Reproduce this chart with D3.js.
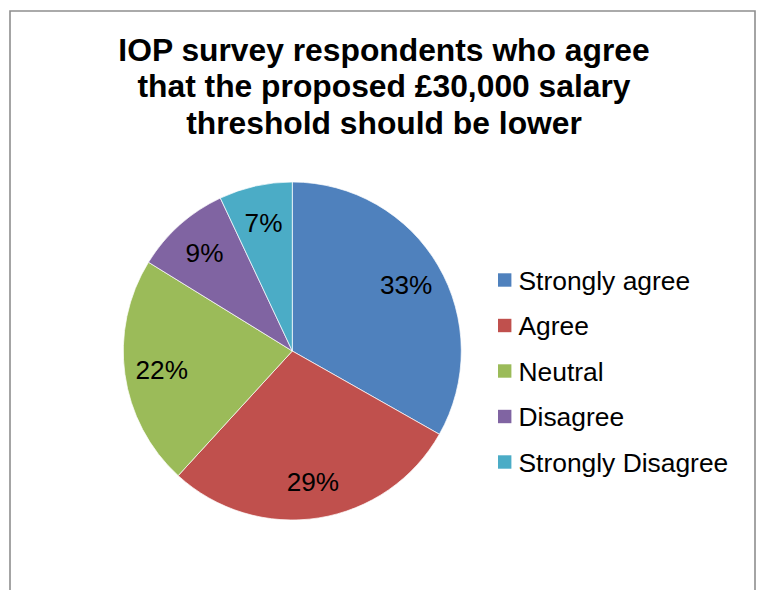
<!DOCTYPE html>
<html>
<head>
<meta charset="utf-8">
<script src="https://cdn.jsdelivr.net/npm/d3@7"></script>
<style>
  html, body { margin: 0; padding: 0; background: #ffffff; }
  svg { display: block; font-family: "Liberation Sans", Arial, sans-serif; }
</style>
</head>
<body>
<svg id="chart" width="757" height="590"></svg>
<script>
const titleLines = ["IOP survey respondents who agree", "that the proposed £30,000 salary", "threshold should be lower"];
const categories = ["Strongly agree", "Agree", "Neutral", "Disagree", "Strongly Disagree"];
const values = [33.2, 28.6, 22.0, 9.2, 7.0];
const colors = ["#4f81bd", "#c0504d", "#9bbb59", "#8064a2", "#4bacc6"];

const svg = d3.select("#chart");

// chart border (open at the bottom, as in the reference)
svg.append("path")
  .attr("d", "M10,590 L10,11 L755,11 L755,590")
  .attr("fill", "none")
  .attr("stroke", "#8e8e8e")
  .attr("stroke-width", 1.6);

// title
svg.append("text")
  .attr("x", 384)
  .attr("y", 60.5)
  .attr("text-anchor", "middle")
  .attr("font-size", 31.8)
  .attr("font-weight", "bold")
  .attr("fill", "#000")
  .selectAll("tspan")
  .data(titleLines)
  .join("tspan")
  .attr("x", 384)
  .attr("dy", (d, i) => i === 0 ? 0 : 36.7)
  .text(d => d);

// pie
const cx = 292.3, cy = 351, R = 169;
const total = d3.sum(values);
const pie = d3.pie().sort(null).value(d => d.v);
const arcs = pie(categories.map((c, i) => ({ c, v: values[i], col: colors[i] })));
const arc = d3.arc().innerRadius(0).outerRadius(R);
const labelArc = d3.arc().innerRadius(R * 0.78).outerRadius(R * 0.78);

const g = svg.append("g").attr("transform", `translate(${cx},${cy})`);
g.selectAll("path.slice")
  .data(arcs)
  .join("path")
  .attr("class", "slice")
  .attr("d", arc)
  .attr("fill", d => d.data.col)
  .attr("stroke", "#ffffff")
  .attr("stroke-width", 0.7);

g.selectAll("text.lbl")
  .data(arcs)
  .join("text")
  .attr("class", "lbl")
  .attr("transform", d => `translate(${labelArc.centroid(d)})`)
  .attr("text-anchor", "middle")
  .attr("dy", "0.36em")
  .attr("font-size", 26.2)
  .attr("fill", "#000")
  .text(d => Math.round(d.data.v / total * 100) + "%");

// legend
const legend = svg.append("g");
const legY = d3.scalePoint().domain(categories).range([280, 462]);
const items = legend.selectAll("g.item")
  .data(categories)
  .join("g")
  .attr("class", "item")
  .attr("transform", d => `translate(498,${legY(d)})`);
items.append("rect")
  .attr("x", 0)
  .attr("y", -6.7)
  .attr("width", 13.4)
  .attr("height", 13.4)
  .attr("fill", (d, i) => colors[i]);
items.append("text")
  .attr("x", 20.5)
  .attr("y", 0)
  .attr("dy", "0.36em")
  .attr("font-size", 26.4)
  .attr("fill", "#000")
  .text(d => d);
</script>
</body>
</html>
